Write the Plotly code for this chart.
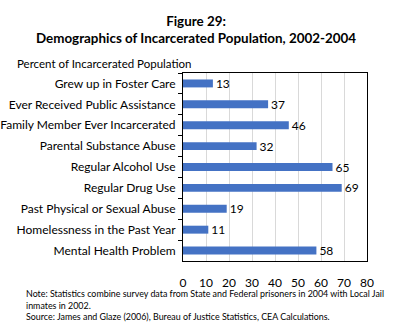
import plotly.graph_objects as go

categories = [
    "Grew up in Foster Care",
    "Ever Received Public Assistance",
    "Family Member Ever Incarcerated",
    "Parental Substance Abuse",
    "Regular Alcohol Use",
    "Regular Drug Use",
    "Past Physical or Sexual Abuse",
    "Homelessness in the Past Year",
    "Mental Health Problem",
]
values = [13, 37, 46, 32, 65, 69, 19, 11, 58]
x_ticks = [0, 10, 20, 30, 40, 50, 60, 70, 80]

FONT = "Lato, Open Sans, sans-serif"
PLOT_L, PLOT_W = 183, 184

fig = go.Figure(
    go.Bar(
        y=categories,
        x=values,
        orientation="h",
        marker=dict(color="#4472C4", line=dict(width=0)),
        width=0.38,
        text=[str(v) for v in values],
        textposition="outside",
        constraintext="none",
        textfont=dict(family=FONT, size=12, color="#000000"),
        cliponaxis=False,
    )
)

fig.update_layout(
    width=411,
    height=329,
    margin=dict(l=PLOT_L, r=411 - PLOT_L - PLOT_W, t=73, b=68),
    paper_bgcolor="white",
    plot_bgcolor="white",
    font=dict(family=FONT, size=12, color="#000000"),
    showlegend=False,
    title=dict(
        text="<b>Figure 29:</b><br><b>Demographics of Incarcerated Population, 2002-2004</b>",
        x=0.477,
        xanchor="center",
        y=0.922,
        yanchor="top",
        font=dict(family=FONT, size=13.4, color="#000000"),
    ),
    annotations=[
        dict(text="Percent of Incarcerated Population", xref="paper", yref="paper",
             x=(15 - PLOT_L) / PLOT_W, y=1.0, xanchor="left", yanchor="bottom",
             yshift=1, showarrow=False, font=dict(family=FONT, size=11.5)),
        dict(text="Note: Statistics combine survey data from State and Federal prisoners in 2004 with Local Jail<br>"
                  "inmates in 2002.<br>Source: James and Glaze (2006), Bureau of Justice Statistics, CEA Calculations.",
             xref="paper", yref="paper", x=(24 - PLOT_L) / PLOT_W, y=0, yshift=-25,
             xanchor="left", yanchor="top", align="left", showarrow=False,
             font=dict(family=FONT, size=8.9)),
    ],
    # companion axis that only carries the short inward tick marks
    xaxis2=dict(
        overlaying="x",
        anchor="y",
        side="bottom",
        matches="x",
        range=[0, 80],
        tickvals=x_ticks,
        ticks="inside",
        ticklen=3,
        tickcolor="#000000",
        showticklabels=False,
        showgrid=False,
        showline=False,
        zeroline=False,
    ),
)

# main value axis: transparent outward ticks set the gap to the labels
fig.update_xaxes(
    selector=dict(anchor="y", overlaying=None),
    range=[0, 80],
    tickvals=x_ticks,
    showgrid=True,
    gridcolor="#D9D9D9",
    gridwidth=1,
    zeroline=False,
    showline=True,
    linecolor="#000000",
    linewidth=1,
    mirror=True,
    ticks="outside",
    ticklen=11,
    tickcolor="rgba(0,0,0,0)",
    tickfont=dict(family=FONT, size=12),
    automargin=False,
)
fig.layout.xaxis.update(
    range=[0, 80],
    tickvals=x_ticks,
    showgrid=True,
    gridcolor="#D9D9D9",
    gridwidth=1,
    zeroline=False,
    showline=True,
    linecolor="#000000",
    linewidth=1,
    mirror=True,
    ticks="outside",
    ticklen=11,
    tickcolor="rgba(0,0,0,0)",
    tickfont=dict(family=FONT, size=12),
    automargin=False,
)

fig.update_yaxes(
    autorange="reversed",
    showline=True,
    linecolor="#000000",
    linewidth=1,
    mirror=True,
    ticks="outside",
    tickson="boundaries",
    ticklen=4,
    tickcolor="#000000",
    ticklabelstandoff=4,
    tickfont=dict(family=FONT, size=12),
    automargin=False,
)

fig.write_html("out.html")
